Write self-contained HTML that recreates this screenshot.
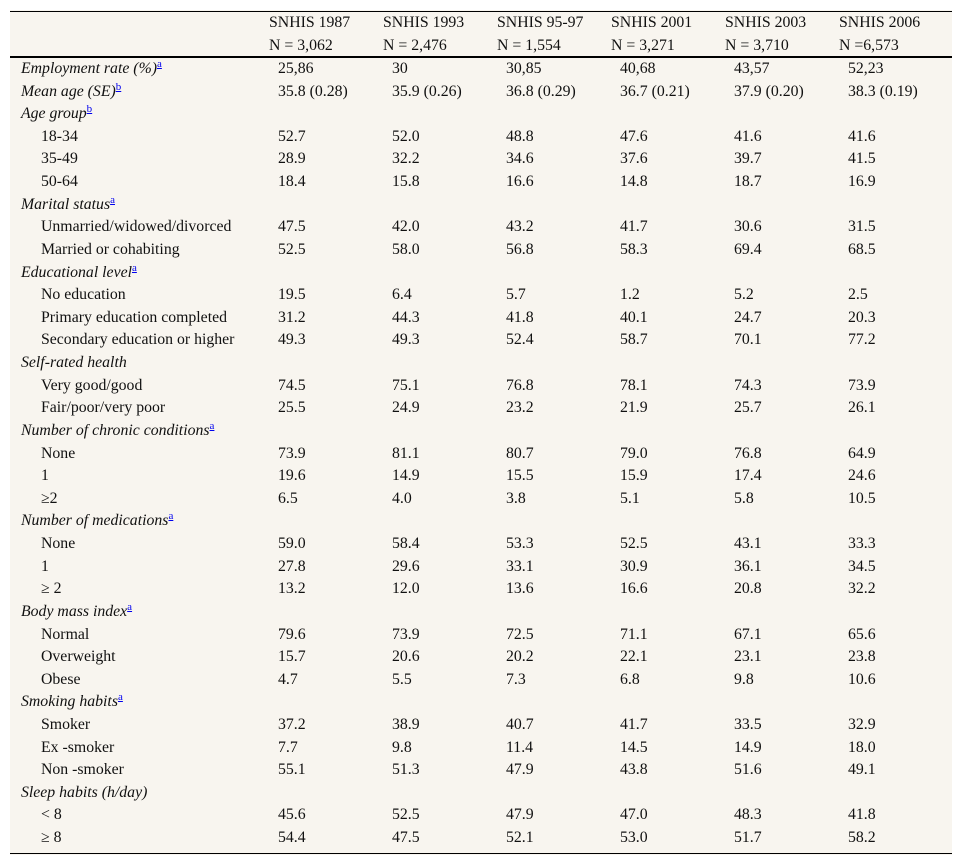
<!DOCTYPE html>
<html><head><meta charset="utf-8">
<style>
body{margin:0;background:#fff;width:963px;height:865px;position:relative;font-family:"Liberation Serif",serif;font-size:15.8px;color:#111;}
#tbl{position:absolute;left:10px;top:10px;width:942px;height:845px;background:#f8f5ef;}
.t{position:absolute;white-space:nowrap;line-height:16px;height:16px;}
.i{font-style:italic;}
sup{vertical-align:baseline;position:relative;top:-6px;line-height:0;font-size:11px;font-style:normal;}
sup a{color:#00e;text-decoration:underline;}
.ln{position:absolute;left:10px;width:942px;background:#000;}
</style></head><body>
<div id="tbl"></div>
<div class="ln" style="top:11px;height:1px"></div>
<div class="ln" style="top:56px;height:2px"></div>
<div class="ln" style="top:853px;height:1px"></div>
<script>
const headers=[["SNHIS 1987","N = 3,062"],["SNHIS 1993","N = 2,476"],["SNHIS 95-97","N = 1,554"],["SNHIS 2001","N = 3,271"],["SNHIS 2003","N = 3,710"],["SNHIS 2006","N =6,573"]];
const rows=[
["h","Employment rate (%)","a",["25,86","30","30,85","40,68","43,57","52,23"]],
["h","Mean age (SE)","b",["35.8 (0.28)","35.9 (0.26)","36.8 (0.29)","36.7 (0.21)","37.9 (0.20)","38.3 (0.19)"]],
["h","Age group","b",null],
["s","18-34","",["52.7","52.0","48.8","47.6","41.6","41.6"]],
["s","35-49","",["28.9","32.2","34.6","37.6","39.7","41.5"]],
["s","50-64","",["18.4","15.8","16.6","14.8","18.7","16.9"]],
["h","Marital status","a",null],
["s","Unmarried/widowed/divorced","",["47.5","42.0","43.2","41.7","30.6","31.5"]],
["s","Married or cohabiting","",["52.5","58.0","56.8","58.3","69.4","68.5"]],
["h","Educational level","a",null],
["s","No education","",["19.5","6.4","5.7","1.2","5.2","2.5"]],
["s","Primary education completed","",["31.2","44.3","41.8","40.1","24.7","20.3"]],
["s","Secondary education or higher","",["49.3","49.3","52.4","58.7","70.1","77.2"]],
["h","Self-rated health","",null],
["s","Very good/good","",["74.5","75.1","76.8","78.1","74.3","73.9"]],
["s","Fair/poor/very poor","",["25.5","24.9","23.2","21.9","25.7","26.1"]],
["h","Number of chronic conditions","a",null],
["s","None","",["73.9","81.1","80.7","79.0","76.8","64.9"]],
["s","1","",["19.6","14.9","15.5","15.9","17.4","24.6"]],
["s","≥2","",["6.5","4.0","3.8","5.1","5.8","10.5"]],
["h","Number of medications","a",null],
["s","None","",["59.0","58.4","53.3","52.5","43.1","33.3"]],
["s","1","",["27.8","29.6","33.1","30.9","36.1","34.5"]],
["s","≥ 2","",["13.2","12.0","13.6","16.6","20.8","32.2"]],
["h","Body mass index","a",null],
["s","Normal","",["79.6","73.9","72.5","71.1","67.1","65.6"]],
["s","Overweight","",["15.7","20.6","20.2","22.1","23.1","23.8"]],
["s","Obese","",["4.7","5.5","7.3","6.8","9.8","10.6"]],
["h","Smoking habits","a",null],
["s","Smoker","",["37.2","38.9","40.7","41.7","33.5","32.9"]],
["s","Ex -smoker","",["7.7","9.8","11.4","14.5","14.9","18.0"]],
["s","Non -smoker","",["55.1","51.3","47.9","43.8","51.6","49.1"]],
["h","Sleep habits (h/day)","",null],
["s","< 8","",["45.6","52.5","47.9","47.0","48.3","41.8"]],
["s","≥ 8","",["54.4","47.5","52.1","53.0","51.7","58.2"]]
];
const hx=[269,383,497,611,725,839], dx=[278,392,506,620,734,848];
function add(x,y,html,cls){const d=document.createElement('div');d.className='t '+(cls||'');d.style.left=x+'px';d.style.top=y+'px';d.innerHTML=html;document.body.appendChild(d);return d;}
headers.forEach((h,i)=>{
 const a=add(hx[i],15,h[0]);
 
 
 const b=add(hx[i],38,h[1]);
 
 
});
rows.forEach((r,k)=>{
 const y=61+k*22.62;
 const lab=r[0]==='h'?add(21,y,r[1]+(r[2]?'<sup><a>'+r[2]+'</a></sup>':''),'i'):add(41,y,r[1]);
 
 
 if(r[3]) r[3].forEach((v,i)=>{
  const c=add(dx[i],y,v);
  
  
 });
});
</script>
</body></html>
